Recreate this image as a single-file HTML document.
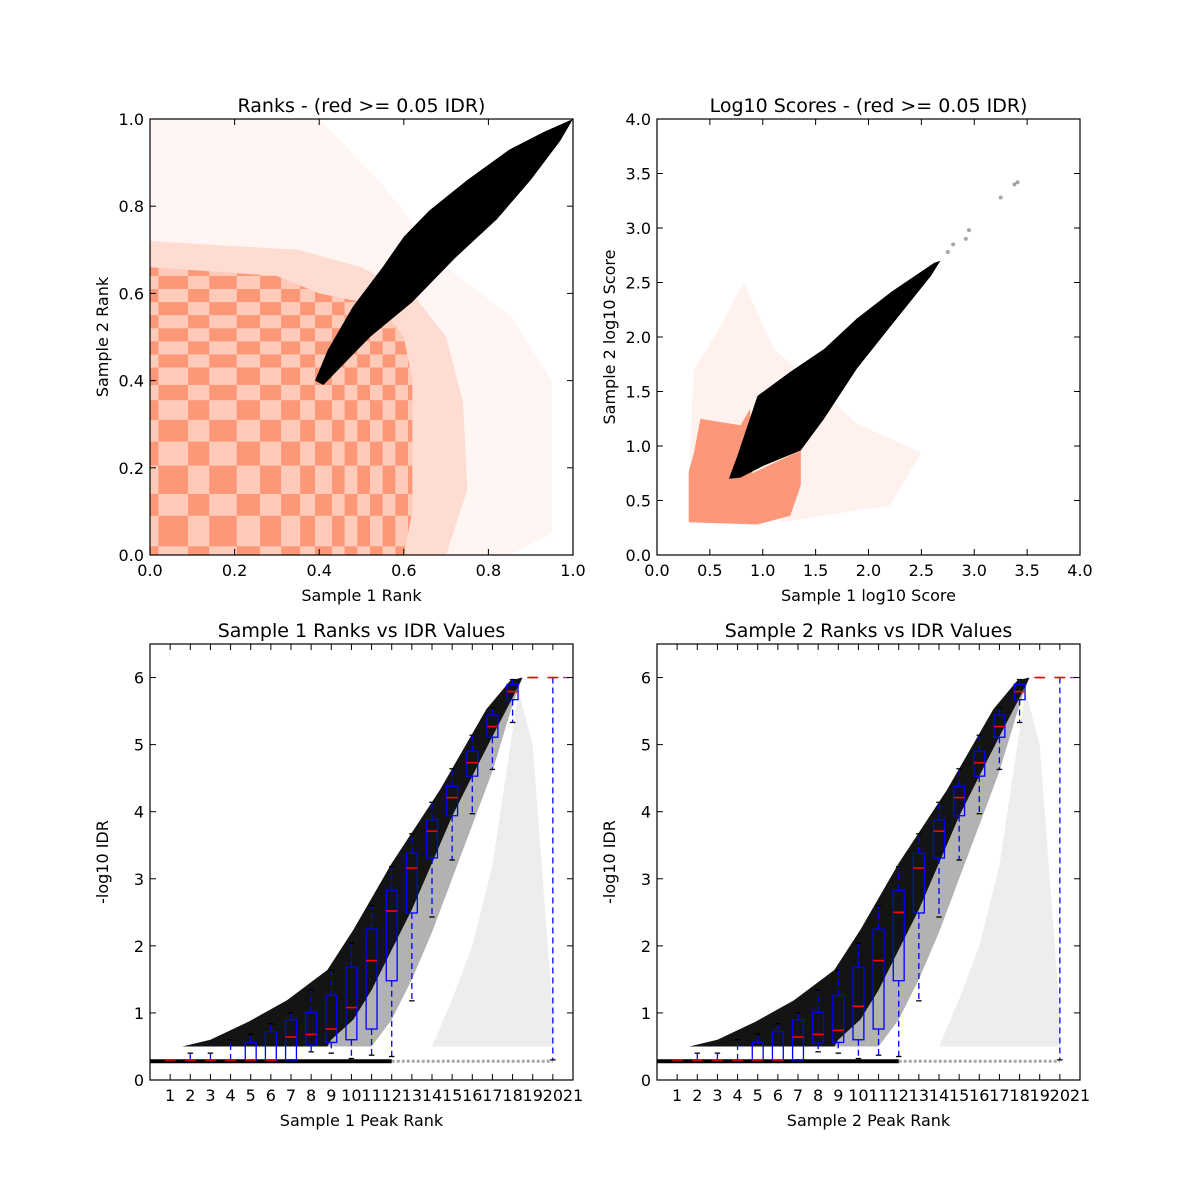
<!DOCTYPE html>
<html><head><meta charset="utf-8">
<style>
html,body{margin:0;padding:0;background:#fff;}
svg{display:block;font-family:"DejaVu Sans","Liberation Sans",sans-serif;}
</style></head>
<body>
<svg id="fig" width="1200" height="1200" viewBox="0 0 1200 1200" xmlns="http://www.w3.org/2000/svg">
<rect width="1200" height="1200" fill="#fff"/>
</svg>
<script>
// ---------- data ----------
const rankTicks = [0.0,0.2,0.4,0.6,0.8,1.0];
const rankTickLabels = ["0.0","0.2","0.4","0.6","0.8","1.0"];
const rankSalmonDenseX = [0,0.30,0.40,0.50,0.56,0.60,0.62,0.62,0.60,0];
const rankSalmonDenseY = [0.66,0.64,0.60,0.58,0.55,0.50,0.40,0.10,0,0];
const rankSalmonMidX = [0,0.35,0.50,0.62,0.70,0.74,0.75,0.70,0.0];
const rankSalmonMidY = [0.72,0.70,0.66,0.60,0.50,0.35,0.15,0.0,0.0];
const rankSalmonFaintX = [0,0.4,0.55,0.70,0.85,0.95,0.95,0.85,0.0];
const rankSalmonFaintY = [1.0,1.0,0.85,0.66,0.55,0.40,0.05,0.0,0.0];
const rankCheckEdges = [0,0.02,0.09,0.14,0.205,0.26,0.31,0.355,0.39,0.43,0.46,0.49,0.52,0.55,0.58,0.61,0.64,0.67];
const rankBlackX = [0.39,0.42,0.48,0.55,0.60,0.66,0.75,0.85,0.93,1.0,0.97,0.90,0.82,0.72,0.62,0.52,0.45,0.41];
const rankBlackY = [0.40,0.47,0.57,0.66,0.73,0.79,0.86,0.93,0.97,1.0,0.95,0.86,0.77,0.68,0.58,0.50,0.43,0.39];
const scoreTicks = [0,0.5,1.0,1.5,2.0,2.5,3.0,3.5,4.0];
const scoreTickLabels = ["0.0","0.5","1.0","1.5","2.0","2.5","3.0","3.5","4.0"];
const scoreSalmonFaintX = [0.30,0.35,0.60,0.82,1.10,1.90,2.50,2.20,1.96,1.20];
const scoreSalmonFaintY = [0.70,1.70,2.10,2.50,1.90,1.20,0.94,0.45,0.42,0.30];
const scoreSalmonDenseX = [0.30,0.95,1.26,1.36,1.36,0.90,0.88,0.79,0.41,0.35,0.30];
const scoreSalmonDenseY = [0.30,0.28,0.36,0.64,0.96,0.75,1.34,1.19,1.25,0.94,0.76];
const scoreBlackX = [0.68,0.76,0.95,1.26,1.58,1.89,2.21,2.62,2.68,2.59,2.21,1.89,1.58,1.36,1.01,0.79];
const scoreBlackY = [0.70,0.91,1.46,1.68,1.89,2.17,2.41,2.68,2.70,2.56,2.10,1.71,1.25,0.96,0.82,0.71];
const scoreOutX = [2.75,2.8,2.92,2.95,3.25,3.38,3.41];
const scoreOutY = [2.78,2.85,2.90,2.98,3.28,3.40,3.42];
const idrYTicks = [0,1,2,3,4,5,6];
const idrXTicks = [1,2,3,4,5,6,7,8,9,10,11,12,13,14,15,16,17,18,19,20,21];
const cloudUpperX = [1.6,3.0,4.9,6.8,8.8,10.1,12.0,14.4,16.7,17.9,18.5,21];
const cloudUpperY = [0.5,0.6,0.87,1.19,1.64,2.24,3.23,4.33,5.53,5.96,6.0,6.0];
const cloudLowerX = [21,18.5,18.0,17.0,16.0,15.0,14.0,13.0,12.0,11.0,10.1,9.0,8.8,1.6];
const cloudLowerY = [6.0,6.0,5.7,5.12,4.53,3.93,3.23,2.54,1.94,1.34,0.9,0.6,0.5,0.5];
const midX = [18.5,18.0,17.0,16.0,15.0,14.0,13.0,12.0,11.0,9.0];
const midY = [6.0,5.6,4.6,3.8,3.0,2.2,1.5,0.9,0.5,0.5];
const sparseX = [18.3,19.0,19.5,20.0,20.0,14.0,15.0,16.0,17.0,17.8];
const sparseY = [5.8,5.0,3.0,1.0,0.5,0.5,1.2,2.0,3.2,4.8];
const baseValue = 0.28;
const s1Q1  = [0.3,0.3,0.3,0.3,0.3,0.3,0.3,0.52,0.56,0.60,0.76,1.48,2.49,3.31,3.94,4.53,5.11,5.67,6,6];
const s1Med = [0.3,0.3,0.3,0.3,0.3,0.3,0.64,0.68,0.76,1.08,1.78,2.52,3.16,3.71,4.21,4.73,5.27,5.79,6,6];
const s1Q3  = [0.3,0.3,0.3,0.3,0.56,0.72,0.90,1.01,1.26,1.68,2.25,2.83,3.38,3.88,4.38,4.90,5.44,5.90,6,6];
const s1Lo  = [0.3,0.3,0.3,0.3,0.3,0.3,0.3,0.42,0.40,0.32,0.37,0.35,1.18,2.43,3.28,3.97,4.63,5.33,6,0.3];
const s1Hi  = [0.3,0.4,0.4,0.6,0.68,0.84,1.0,1.34,1.64,2.04,2.60,3.18,3.67,4.14,4.64,5.14,5.55,5.97,6,6];
const s2Q1  = [0.3,0.3,0.3,0.3,0.3,0.3,0.3,0.55,0.56,0.60,0.76,1.48,2.49,3.31,3.94,4.53,5.11,5.67,6,6];
const s2Med = [0.3,0.3,0.3,0.3,0.3,0.3,0.64,0.68,0.74,1.10,1.78,2.50,3.16,3.71,4.21,4.73,5.27,5.79,6,6];
const s2Q3  = [0.3,0.3,0.3,0.3,0.56,0.72,0.90,1.01,1.26,1.68,2.25,2.83,3.38,3.88,4.38,4.90,5.44,5.90,6,6];
const s2Lo  = [0.3,0.3,0.3,0.3,0.3,0.3,0.3,0.42,0.40,0.32,0.37,0.35,1.18,2.43,3.28,3.97,4.63,5.33,6,0.3];
const s2Hi  = [0.3,0.4,0.4,0.6,0.68,0.84,1.0,1.34,1.64,2.04,2.60,3.18,3.67,4.14,4.64,5.14,5.55,5.97,6,6];

// ---------- helpers ----------
const NS="http://www.w3.org/2000/svg";
const fig=document.getElementById('fig');
function mk(tag,attrs,parent){const e=document.createElementNS(NS,tag);for(const k in attrs)e.setAttribute(k,attrs[k]);(parent||fig).appendChild(e);return e;}
function txt(s,x,y,size,anchor,parent,rot){const t=mk('text',{x:x,y:y,'font-size':size,'text-anchor':anchor||'middle',fill:'#000'},parent);if(rot)t.setAttribute('transform','rotate(-90 '+x+' '+y+')');t.textContent=s;return t;}
function axis(x0,y0,w,h,xmin,xmax,ymin,ymax){return {X:v=>x0+(v-xmin)/(xmax-xmin)*w,Y:v=>y0+h-(v-ymin)/(ymax-ymin)*h,x0,y0,w,h};}
function poly(ax,xs,ys,fill,op,g,name){const p=xs.map((v,i)=>ax.X(v).toFixed(1)+','+ax.Y(ys[i]).toFixed(1)).join(' ');const e=mk('polygon',{points:p,fill:fill,'fill-opacity':op},g);


return e;}
function frame(ax,g,xt,xl,yt,yl,name){
  const gg=mk('g',{},g);
  
  
  xt.forEach((v,i)=>{const x=ax.X(v);mk('line',{x1:x,x2:x,y1:ax.y0+ax.h,y2:ax.y0+ax.h-6,stroke:'#000'},gg);mk('line',{x1:x,x2:x,y1:ax.y0,y2:ax.y0+6,stroke:'#000'},gg);
    const t=txt(xl[i],x,ax.y0+ax.h+21,16,'middle',gg);
    
    });
  yt.forEach((v,i)=>{const y=ax.Y(v);mk('line',{x1:ax.x0,x2:ax.x0+6,y1:y,y2:y,stroke:'#000'},gg);mk('line',{x1:ax.x0+ax.w,x2:ax.x0+ax.w-6,y1:y,y2:y,stroke:'#000'},gg);
    const t=txt(yl[i],ax.x0-6,y+6,16,'end',gg);
    
    });
  mk('rect',{x:ax.x0,y:ax.y0,width:ax.w,height:ax.h,fill:'none',stroke:'#000','stroke-width':1.2},gg);
}
function labels(ax,title,xl,yl,g){
  const a=txt(title,ax.x0+ax.w/2,ax.y0-7,19,'middle',g);
  
  
  const b=txt(xl,ax.x0+ax.w/2,ax.y0+ax.h+46,16,'middle',g);
  
  
  const c=txt(yl,ax.x0-42,ax.y0+ax.h/2,16,'middle',g,true);
  
  
}

// ---------- panel 1: ranks ----------
(function(){
  const g=mk('g',{});
  
  
  const ax=axis(150,119,423,436,0,1,0,1);
  const cp=mk('clipPath',{id:'c1'},g);
  mk('rect',{x:150,y:119,width:423,height:436},cp);
  const inner=mk('g',{'clip-path':'url(#c1)'},g);
  poly(ax,rankSalmonFaintX,rankSalmonFaintY,'#fc9272',0.09,inner,'salmon-sparse-cloud');
  poly(ax,rankSalmonMidX,rankSalmonMidY,'#fc9272',0.25,inner,'salmon-mid-cloud');
  const cp2=mk('clipPath',{id:'c1b'},g);
  mk('polygon',{points:rankSalmonDenseX.map((v,i)=>ax.X(v)+','+ax.Y(rankSalmonDenseY[i])).join(' ')},cp2);
  poly(ax,rankSalmonDenseX,rankSalmonDenseY,'#fc9272',0.95,inner,'salmon-dense-cloud');
  const cg=mk('g',{'clip-path':'url(#c1b)'},inner);
  for(let i=0;i<rankCheckEdges.length-1;i++)for(let j=0;j<rankCheckEdges.length-1;j++){
    if((i+j)%2===1){const x=ax.X(rankCheckEdges[i]),x2=ax.X(rankCheckEdges[i+1]),y=ax.Y(rankCheckEdges[j+1]),y2=ax.Y(rankCheckEdges[j]);
      const r=mk('rect',{x:x,y:y,width:x2-x,height:y2-y,fill:'#fff','fill-opacity':0.5},cg);
      
      }
  }
  poly(ax,rankBlackX,rankBlackY,'#000',1,inner,'black-pass-cloud');
  frame(ax,g,rankTicks,rankTickLabels,rankTicks,rankTickLabels,'ranks-axes');
  labels(ax,'Ranks - (red >= 0.05 IDR)','Sample 1 Rank','Sample 2 Rank',g);
})();

// ---------- panel 2: scores ----------
(function(){
  const g=mk('g',{});
  
  
  const ax=axis(657,119,423,436,0,4,0,4);
  poly(ax,scoreSalmonFaintX,scoreSalmonFaintY,'#fc9272',0.12,g,'salmon-sparse-cloud');
  poly(ax,scoreSalmonDenseX,scoreSalmonDenseY,'#fc9272',0.95,g,'salmon-dense-cloud');
  poly(ax,scoreBlackX,scoreBlackY,'#000',1,g,'black-pass-cloud');
  scoreOutX.forEach((v,i)=>{const c=mk('circle',{cx:ax.X(v),cy:ax.Y(scoreOutY[i]),r:2,fill:'#000','fill-opacity':0.35},g);
    
    });
  frame(ax,g,scoreTicks,scoreTickLabels,scoreTicks,scoreTickLabels,'scores-axes');
  labels(ax,'Log10 Scores - (red >= 0.05 IDR)','Sample 1 log10 Score','Sample 2 log10 Score',g);
})();

// ---------- panels 3/4: IDR ----------
function idrPanel(x0,title,xl,Q1,Med,Q3,Lo,Hi,name){
  const g=mk('g',{});
  
  
  const ax=axis(x0,644,423,436,0,21,0,6.5);
  poly(ax,sparseX,sparseY,'#000',0.07,g,'sparse-cloud');
  poly(ax,cloudLowerX.slice(0,13).concat(midX.slice().reverse()),cloudLowerY.slice(0,13).concat(midY.slice().reverse()),'#000',0.3,g,'mid-cloud');
  poly(ax,cloudUpperX.concat(cloudLowerX),cloudUpperY.concat(cloudLowerY),'#000',0.92,g,'dense-cloud');
  const bl=mk('line',{x1:ax.X(0),x2:ax.X(12),y1:ax.Y(baseValue),y2:ax.Y(baseValue),stroke:'#000','stroke-width':4},g);
  
  
  const bl2=mk('line',{x1:ax.X(12),x2:ax.X(20),y1:ax.Y(baseValue),y2:ax.Y(baseValue),stroke:'#000','stroke-width':3,'stroke-opacity':0.35,'stroke-dasharray':'3 2'},g);
  
  
  const hw=0.27;
  Med.forEach((m,i)=>{
    const p=i+1, bg=mk('g',{},g);
    
    
    mk('line',{x1:ax.X(p),x2:ax.X(p),y1:ax.Y(Q3[i]),y2:ax.Y(Hi[i]),stroke:'#00f','stroke-dasharray':'6 4','stroke-width':1.3},bg);
    mk('line',{x1:ax.X(p),x2:ax.X(p),y1:ax.Y(Q1[i]),y2:ax.Y(Lo[i]),stroke:'#00f','stroke-dasharray':'6 4','stroke-width':1.3},bg);
    mk('line',{x1:ax.X(p-hw/2),x2:ax.X(p+hw/2),y1:ax.Y(Lo[i]),y2:ax.Y(Lo[i]),stroke:'#000','stroke-width':1.3},bg);
    mk('line',{x1:ax.X(p-hw/2),x2:ax.X(p+hw/2),y1:ax.Y(Hi[i]),y2:ax.Y(Hi[i]),stroke:'#000','stroke-width':1.3},bg);
    mk('rect',{x:ax.X(p-hw),y:ax.Y(Q3[i]),width:ax.X(p+hw)-ax.X(p-hw),height:Math.max(0,ax.Y(Q1[i])-ax.Y(Q3[i])),fill:'none',stroke:'#00f','stroke-width':1.3},bg);
    mk('line',{x1:ax.X(p-hw),x2:ax.X(p+hw),y1:ax.Y(m),y2:ax.Y(m),stroke:'#f00','stroke-width':1.6},bg);
  });
  const tail=mk('line',{x1:ax.X(20.5),x2:ax.X(21),y1:ax.Y(6),y2:ax.Y(6),stroke:'#a0309a','stroke-dasharray':'6 4','stroke-width':1.3},g);
  
  
  frame(ax,g,idrXTicks,idrXTicks.map(String),idrYTicks,idrYTicks.map(String),name+'-axes');
  labels(ax,title,xl,'-log10 IDR',g);
}
idrPanel(150,'Sample 1 Ranks vs IDR Values','Sample 1 Peak Rank',s1Q1,s1Med,s1Q3,s1Lo,s1Hi,'sample1-idr-panel');
idrPanel(657,'Sample 2 Ranks vs IDR Values','Sample 2 Peak Rank',s2Q1,s2Med,s2Q3,s2Lo,s2Hi,'sample2-idr-panel');
</script>
</body></html>
